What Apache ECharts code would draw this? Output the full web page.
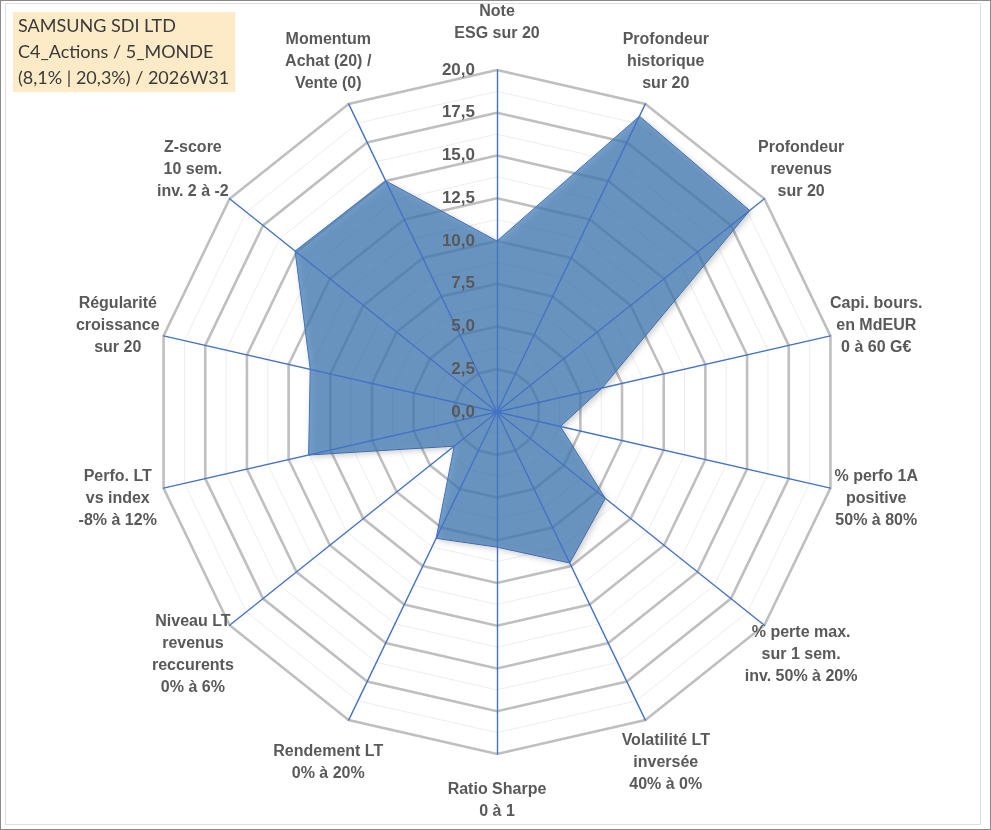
<!DOCTYPE html>
<html>
<head>
<meta charset="utf-8">
<script src="https://cdn.jsdelivr.net/npm/echarts@6/dist/echarts.min.js"></script>
<style>
  html, body { margin: 0; padding: 0; background: #fff; }
  #main { position: absolute; left: 0; top: 0; width: 991px; height: 830px; }
  .frame { position: absolute; pointer-events: none; box-sizing: border-box; }
</style>
</head>
<body>
<div id="main"></div>
<div class="frame" style="left:0;top:0;width:991px;height:830px;border:1px solid #8a8a8a;"></div>
<div class="frame" style="left:5px;top:3px;width:976px;height:822px;border:1px solid #dedede;"></div>
<script>
// indicators, clockwise from the top as in the picture
var names = [
  'Note\nESG sur 20',
  'Profondeur\nhistorique\nsur 20',
  'Profondeur\nrevenus\nsur 20',
  'Capi. bours.\nen MdEUR\n0 à 60 G€',
  '% perfo 1A\npositive\n50% à 80%',
  '% perte max.\nsur 1 sem.\ninv. 50% à 20%',
  'Volatilité LT\ninversée\n40% à 0%',
  'Ratio Sharpe\n0 à 1',
  'Rendement LT\n0% à 20%',
  'Niveau LT\nrevenus\nreccurents\n0% à 6%',
  'Perfo. LT\nvs index\n-8% à 12%',
  'Régularité\ncroissance\nsur 20',
  'Z-score\n10 sem.\ninv. 2 à -2',
  'Momentum\nAchat (20) /\nVente (0)'
];
var scores = [10.0, 19.2, 18.9, 6.3, 3.8, 8.1, 9.8, 7.9, 8.2, 3.2, 11.3, 11.2, 15.1, 15.0];
var titleLines = ['SAMSUNG SDI LTD', 'C4_Actions / 5_MONDE', '(8,1% | 20,3%) / 2026W31'];
var scaleMin = 0, scaleMax = 20, majorSplits = 8;

// echarts radar runs counter-clockwise, so walk the lists backwards after the first
var order = [0];
for (var i = names.length - 1; i > 0; i--) order.push(i);

var grey = '#595959';
var center = [497, 412];
var radius = 342;

function indicators(withLabel) {
  return order.map(function (k, j) {
    var ind = { name: names[k], min: scaleMin, max: scaleMax };
    if (withLabel && j === 0) {
      ind.axisLabel = {
        show: true, color: grey, fontWeight: 'bold', fontSize: 17,
        fontFamily: 'Liberation Sans', margin: 22,
        formatter: function (v) { return v.toFixed(1).replace('.', ','); }
      };
    }
    return ind;
  });
}

function gridRadar(splits, lineStyle, z) {
  return {
    center: center, radius: radius, shape: 'polygon', z: z,
    splitNumber: splits,
    indicator: indicators(false),
    axisName: { show: false },
    axisLine: { show: false },
    splitLine: { lineStyle: lineStyle },
    splitArea: { show: false },
    axisLabel: { show: false }
  };
}

var myChart = echarts.init(document.getElementById('main'));
myChart.setOption({
  animation: false,
  title: {
    text: titleLines.join('\n'),
    left: 13, top: 12,
    backgroundColor: '#fdebc7',
    padding: [1, 6, 1, 5],
    textStyle: { fontFamily: 'Lato', fontWeight: 'normal', fontSize: 18, lineHeight: 26, color: '#3a3a3a' }
  },
  radar: [
    gridRadar(majorSplits * 2, { color: '#ededed', width: 1 }, 0),
    gridRadar(majorSplits, { color: '#bfbfbf', width: 2.6 }, 1),
    {
      // spokes, names and tick labels, above the filled area
      center: center, radius: radius, shape: 'polygon', z: 5,
      splitNumber: majorSplits,
      indicator: indicators(true),
      nameGap: 47,
      axisName: {
        color: grey, fontWeight: 'bold', fontSize: 16, fontFamily: 'Liberation Sans',
        lineHeight: 22, align: 'center', verticalAlign: 'middle'
      },
      axisLine: { lineStyle: { color: '#4472c4', width: 1.4 } },
      splitLine: { show: false },
      splitArea: { show: false },
      axisLabel: { show: false }
    }
  ],
  series: [{
    type: 'radar',
    radarIndex: 2,
    z: 3,
    symbol: 'none',
    lineStyle: { color: '#4472c4', width: 1 },
    areaStyle: {
      color: 'rgb(72,128,188)',
      opacity: 0.74,
      shadowBlur: 6, shadowColor: 'rgba(0,0,0,0.3)', shadowOffsetX: 2, shadowOffsetY: 2
    },
    data: [{ value: order.map(function (k) { return scores[k]; }) }]
  }]
});
</script>
</body>
</html>
